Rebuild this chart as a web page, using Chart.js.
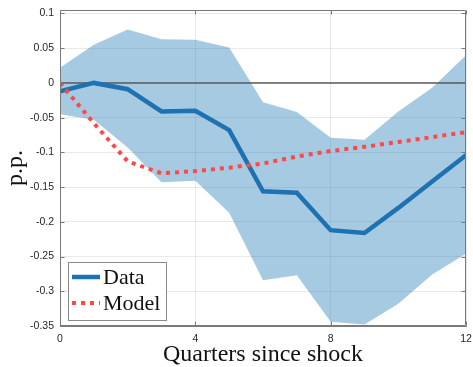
<!DOCTYPE html>
<html><head><meta charset="utf-8">
<script src="https://cdn.jsdelivr.net/npm/chart.js@4"></script>
<style>html,body{margin:0;padding:0;background:#fff}</style>
</head><body>
<canvas id="c" width="473" height="367" style="display:block;width:473px;height:367px"></canvas>
<script>
// ---- data ----
const quarters   = [0, 1, 2, 3, 4, 5, 6, 7, 8, 9, 10, 11, 12];
const dataSeries = [-0.012, 0.000, -0.009, -0.041, -0.040, -0.068, -0.156, -0.158, -0.212, -0.216, -0.180, -0.142, -0.104];
const modelSeries= [0.000, -0.058, -0.113, -0.130, -0.127, -0.122, -0.116, -0.106, -0.098, -0.092, -0.085, -0.078, -0.071];
const bandUpper  = [0.022, 0.055, 0.077, 0.063, 0.062, 0.051, -0.028, -0.042, -0.079, -0.082, -0.041, -0.007, 0.040];
const bandLower  = [-0.045, -0.053, -0.093, -0.143, -0.141, -0.187, -0.284, -0.277, -0.344, -0.348, -0.318, -0.276, -0.246];
const zeroLevel  = [0, 0];
const xTicks     = [0, 4, 8, 12];
const xTickLabels= ['0', '4', '8', '12'];
const yTicks     = [-0.35, -0.3, -0.25, -0.2, -0.15, -0.1, -0.05, 0, 0.05, 0.1];
const yTickLabels= ['-0.35', '-0.3', '-0.25', '-0.2', '-0.15', '-0.1', '-0.05', '0', '0.05', '0.1'];
const seriesLabels = ['Data', 'Model'];
const xTitle = 'Quarters since shock';
const yTitle = 'p.p.';

const pts = arr => arr.map((v, i) => ({x: quarters[i], y: v}));

const BLUE = '#1f72b2';
const RED = '#ff4747';
const FRAME = '#7a7a7a';

const framePlugin = {
  id: 'frame',
  afterDatasetsDraw(chart) {
    const {ctx, chartArea: a, scales: {x, y}} = chart;
    ctx.save();
    ctx.strokeStyle = FRAME;
    ctx.lineWidth = 1;
    ctx.beginPath();
    const L = Math.round(a.left) + 0.5, R = Math.round(a.right) - 0.5;
    const T = Math.round(a.top) + 0.5, B = Math.round(a.bottom) - 0.5;
    ctx.moveTo(L, T); ctx.lineTo(R, T); ctx.lineTo(R, B); ctx.lineTo(L, B); ctx.closePath();
    const tl = 4;
    xTicks.forEach(v => {
      const px = Math.round(x.getPixelForValue(v)) + 0.5;
      ctx.moveTo(px, B); ctx.lineTo(px, B - tl);
      ctx.moveTo(px, T); ctx.lineTo(px, T + tl);
    });
    yTicks.forEach(v => {
      const py = Math.round(y.getPixelForValue(v)) + 0.5;
      ctx.moveTo(L, py); ctx.lineTo(L + tl, py);
      ctx.moveTo(R, py); ctx.lineTo(R - tl, py);
    });
    ctx.stroke();
    ctx.restore();
  },
  afterDraw(chart) {
    const {ctx} = chart;
    const ds = chart.data.datasets;
    ctx.save();
    const bx = 68.5, by = 262.5, bw = 98, bh = 58;
    ctx.fillStyle = '#fff';
    ctx.fillRect(bx, by, bw, bh);
    ctx.strokeStyle = '#8a8a8a';
    ctx.lineWidth = 1;
    ctx.strokeRect(bx, by, bw, bh);
    const rows = [277, 303];
    [0, 1].forEach((k, i) => {
      const d = ds[k];
      ctx.beginPath();
      ctx.strokeStyle = d.borderColor;
      ctx.lineWidth = d.borderWidth;
      ctx.setLineDash(d.borderDash || []);
      ctx.lineCap = 'butt';
      ctx.moveTo(72, rows[i]); ctx.lineTo(100, rows[i]);
      ctx.stroke();
      ctx.setLineDash([]);
      ctx.fillStyle = '#111';
      ctx.font = '22px "Liberation Serif", "DejaVu Serif", serif';
      ctx.textBaseline = 'middle';
      ctx.textAlign = 'left';
      ctx.fillText(d.label, 103, rows[i] + 1);
    });
    ctx.restore();
  }
};

new Chart(document.getElementById('c'), {
  type: 'line',
  data: {
    datasets: [
      {label: seriesLabels[0], data: pts(dataSeries), borderColor: BLUE, borderWidth: 4.5,
       pointRadius: 0, fill: false, order: 1, borderJoinStyle: 'miter'},
      {label: seriesLabels[1], data: pts(modelSeries), borderColor: RED, borderWidth: 4,
       borderDash: [4, 5], borderCapStyle: 'butt', pointRadius: 0, fill: false, order: 0},
      {label: 'zero', data: zeroLevel.map((v, i) => ({x: i === 0 ? quarters[0] : quarters[quarters.length - 1], y: v})),
       borderColor: '#5a5a5a', borderWidth: 1.5, pointRadius: 0, fill: false, order: 2},
      {label: 'upper', data: pts(bandUpper), borderWidth: 0, borderColor: 'rgba(0,0,0,0)',
       backgroundColor: 'rgba(13,110,175,0.37)', pointRadius: 0, fill: '+1', order: 3},
      {label: 'lower', data: pts(bandLower), borderWidth: 0, borderColor: 'rgba(0,0,0,0)',
       pointRadius: 0, fill: false, order: 4}
    ]
  },
  options: {
    responsive: false,
    animation: false,
    events: [],
    layout: {padding: {top: 10, right: 0, left: 0, bottom: 0}},
    plugins: {legend: {display: false}, tooltip: {enabled: false}},
    scales: {
      x: {
        type: 'linear', min: 0, max: 12,
        afterBuildTicks: s => { s.ticks = xTicks.map(v => ({value: v})); },
        afterFit: s => { s.height = 41; s.paddingRight = 7; s.paddingLeft = 0; },
        ticks: {
          callback: v => xTickLabels[xTicks.indexOf(v)],
          font: {family: '"Liberation Sans", Arial, sans-serif', size: 10.5},
          color: '#262626', padding: 7, maxRotation: 0, autoSkip: false
        },
        grid: {color: 'rgba(0,0,0,0.085)', drawTicks: false},
        border: {display: true, color: FRAME},
        title: {display: true, text: xTitle, color: '#111',
          font: {family: '"Liberation Serif", "DejaVu Serif", serif', size: 24, lineHeight: 1},
          padding: {top: 0, bottom: 0}}
      },
      y: {
        type: 'linear', min: -0.35, max: 0.105,
        afterBuildTicks: s => { s.ticks = yTicks.map(v => ({value: v})); },
        afterFit: s => { s.width = 60; s.paddingTop = 0; s.paddingBottom = 0; },
        ticks: {
          callback: v => yTickLabels[yTicks.findIndex(t => Math.abs(t - v) < 1e-9)],
          font: {family: '"Liberation Sans", Arial, sans-serif', size: 10.5},
          color: '#262626', padding: 6, autoSkip: false
        },
        grid: {color: 'rgba(0,0,0,0.085)', drawTicks: false},
        border: {display: true, color: FRAME},
        title: {display: true, text: yTitle, color: '#111',
          font: {family: '"Liberation Serif", "DejaVu Serif", serif', size: 24, lineHeight: 1},
          padding: {top: 4, bottom: 0}}
      }
    }
  },
  plugins: [framePlugin]
});
</script>
</body></html>
